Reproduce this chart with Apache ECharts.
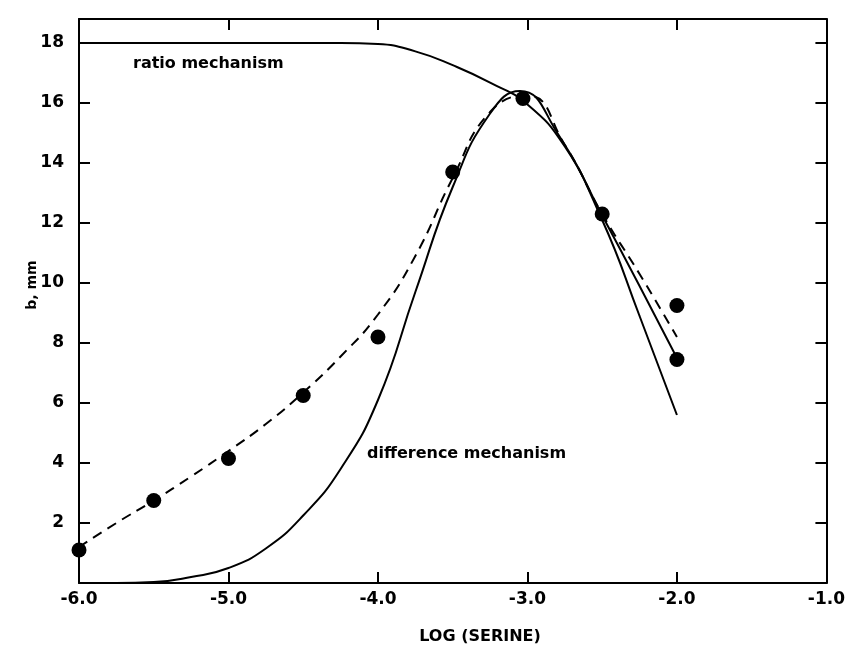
<!DOCTYPE html>
<html>
<head>
<meta charset="utf-8">
<script src="https://cdn.jsdelivr.net/npm/echarts@6/dist/echarts.min.js"></script>
<style>
html, body { margin: 0; padding: 0; background: #fff; }
#chart { width: 848px; height: 654px; }
</style>
</head>
<body>
<div id="chart"></div>
<script>
// measured points
const obsX = [-6.0, -5.5, -5.0, -4.5, -4.0, -3.5, -3.03, -2.5, -2.0, -2.0]
const obsY = [1.1, 2.75, 4.15, 6.25, 8.2, 13.7, 16.15, 12.3, 9.25, 7.45]

// dashed fit through the points
const fitX = [-6.0, -5.75, -5.5, -5.25, -5.0, -4.75, -4.5, -4.25, -4.0, -3.75, -3.5, -3.25, -3.0, -2.75, -2.5, -2.25, -2.0]
const fitY = [1.2, 2.0, 2.75, 3.55, 4.4, 5.3, 6.35, 7.55, 8.95, 10.9, 13.5, 15.7, 16.25, 14.6, 12.3, 10.3, 8.2]

// ratio mechanism
const ratioX = [-6.0, -5.0, -4.5, -4.25, -4.0, -3.75, -3.5, -3.25, -3.0, -2.75, -2.5, -2.25, -2.0]
const ratioY = [18, 18, 18, 18, 17.97, 17.72, 17.26, 16.68, 15.95, 14.55, 12.25, 9.9, 7.5]

// difference mechanism
const diffX = [-5.75, -5.5, -5.25, -5.0, -4.75, -4.5, -4.25, -4.0, -3.75, -3.5, -3.25, -3.05, -2.8, -2.5, -2.25, -2.0]
const diffY = [0, 0.03, 0.2, 0.5, 1.15, 2.25, 3.8, 6.1, 9.7, 13.2, 15.65, 16.4, 15.0, 12.1, 8.9, 5.6]

const xMin = -6, xMax = -1, xStep = 1
const yMin = 0, yMax = 18.8, yStep = 2

const pairs = (xs, ys) => xs.map((x, i) => [x, ys[i]])
const font = 'DejaVu Sans'

let myChart = echarts.init(document.getElementById('chart'))

const axisLine = { show: true, onZero: false, lineStyle: { color: '#000', width: 2 } }
const tick = { show: true, inside: true, length: 11, lineStyle: { color: '#000', width: 2 } }

let option = {
    animation: false,
    backgroundColor: '#fff',
    grid: { left: 79, right: 20, top: 19, bottom: 71 },
    xAxis: [
        {
            type: 'value', min: xMin, max: xMax, interval: xStep, position: 'bottom',
            axisLine: axisLine, axisTick: tick, splitLine: { show: false },
            axisLabel: {
                color: '#000', fontSize: 17, fontFamily: font, fontWeight: 'bold', margin: 8,
                formatter: v => v.toFixed(1)
            }
        },
        {
            type: 'value', min: xMin, max: xMax, interval: xStep, position: 'top',
            axisLine: axisLine, axisTick: tick, splitLine: { show: false },
            axisLabel: { show: false }
        }
    ],
    yAxis: [
        {
            type: 'value', min: yMin, max: yMax, interval: yStep, position: 'left',
            axisLine: axisLine, axisTick: tick, splitLine: { show: false },
            axisLabel: {
                color: '#000', fontSize: 17, fontFamily: font, fontWeight: 'bold', margin: 15,
                formatter: v => (v > 0 && v % 2 === 0) ? String(v) : ''
            }
        },
        {
            type: 'value', min: yMin, max: yMax, interval: yStep, position: 'right',
            axisLine: axisLine, axisTick: tick, splitLine: { show: false },
            axisLabel: { show: false }
        }
    ],
    series: [
        {
            name: 'ratio mechanism', type: 'line', data: pairs(ratioX, ratioY),
            smooth: 0.5, smoothMonotone: 'none', showSymbol: false, lineStyle: { color: '#000', width: 2 }
        },
        {
            name: 'difference mechanism', type: 'line', data: pairs(diffX, diffY),
            smooth: 0.5, smoothMonotone: 'none', showSymbol: false, lineStyle: { color: '#000', width: 2 }
        },
        {
            name: 'fit', type: 'line', data: pairs(fitX, fitY),
            smooth: 0.5, smoothMonotone: 'none', showSymbol: false,
            lineStyle: { color: '#000', width: 2, type: [10, 7] }
        },
        {
            name: 'observed', type: 'scatter', data: pairs(obsX, obsY),
            symbol: 'circle', symbolSize: 15, itemStyle: { color: '#000', opacity: 1 }, z: 5
        }
    ],
    graphic: [
        {
            type: 'text', left: 133, top: 56,
            style: { text: 'ratio mechanism', fill: '#000', font: 'bold 16px "DejaVu Sans"' }
        },
        {
            type: 'text', left: 367, top: 446,
            style: { text: 'difference mechanism', fill: '#000', font: 'bold 16px "DejaVu Sans"' }
        },
        {
            type: 'text', x: 480, y: 637,
            style: { text: 'LOG (SERINE)', fill: '#000', font: 'bold 16px "DejaVu Sans"', align: 'center', verticalAlign: 'middle' }
        },
        {
            type: 'text', x: 32, y: 285, rotation: Math.PI / 2,
            style: { text: 'b, mm', fill: '#000', font: 'bold 14px "DejaVu Sans"', align: 'center', verticalAlign: 'middle' }
        }
    ]
}

myChart.setOption(option)
window.addEventListener('resize', function () {
    myChart.resize()
})
</script>
</body>
</html>
